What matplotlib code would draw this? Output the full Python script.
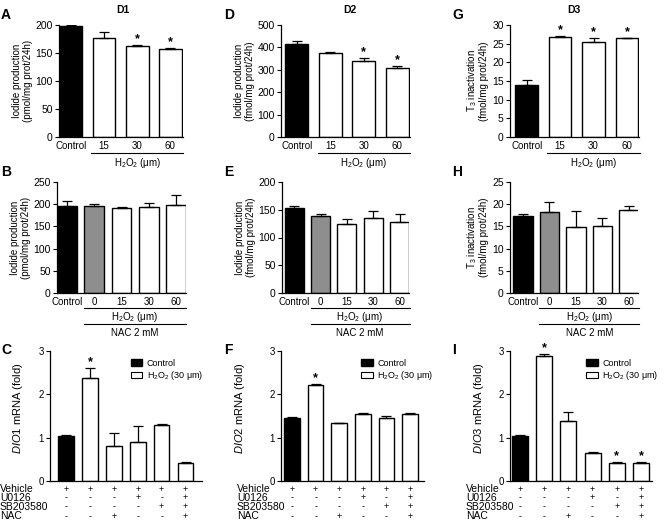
import matplotlib
matplotlib.use("Agg")
import matplotlib.pyplot as plt
import matplotlib.transforms as mtransforms
from matplotlib.patches import Patch

plt.rcParams['font.family'] = ['Liberation Sans', 'DejaVu Sans']
plt.rcParams['mathtext.fontset'] = 'custom'
plt.rcParams['mathtext.rm'] = 'Liberation Sans'
plt.rcParams['mathtext.it'] = 'Liberation Sans:italic'
plt.rcParams['axes.linewidth'] = 0.9

# ---- data ----
h2o2_labels = ["Control", "15", "30", "60"]
nac_labels = ["Control", "0", "15", "30", "60"]

d1_h2o2 = [198, 177, 162, 157]
d1_h2o2_err = [2, 11, 2, 2]
d2_h2o2 = [417, 375, 339, 309]
d2_h2o2_err = [12, 5, 14, 8]
d3_h2o2 = [13.9, 26.9, 25.5, 26.4]
d3_h2o2_err = [1.4, 0.2, 0.9, 0.2]

d1_nac = [196, 195, 191, 194, 199]
d1_nac_err = [11, 5, 2, 8, 22]
d2_nac = [154, 139, 124, 136, 128]
d2_nac_err = [2, 3, 9, 12, 15]
d3_nac = [17.3, 18.2, 14.8, 15.2, 18.6]
d3_nac_err = [0.6, 2.3, 3.7, 1.7, 1.1]

dio1 = [1.04, 2.38, 0.80, 0.91, 1.29, 0.42]
dio1_err = [0.03, 0.23, 0.31, 0.37, 0.02, 0.02]
dio2 = [1.46, 2.22, 1.33, 1.55, 1.45, 1.55]
dio2_err = [0.02, 0.02, 0.02, 0.02, 0.05, 0.02]
dio3 = [1.04, 2.88, 1.39, 0.65, 0.42, 0.42]
dio3_err = [0.02, 0.04, 0.21, 0.02, 0.01, 0.02]

vehicle = ["+", "+", "+", "+", "+", "+"]
u0126 = ["-", "-", "-", "+", "-", "+"]
sb203580 = ["-", "-", "-", "-", "+", "+"]
nac = ["-", "-", "+", "-", "-", "+"]

W, H = 665, 521
fig = plt.figure(figsize=(W / 100, H / 100), dpi=100)


def px_axes(x0, x1, ytop, ybot):
    return fig.add_axes([x0 / W, 1 - ybot / H, (x1 - x0) / W, (ybot - ytop) / H])


def bars(ax, vals, errs, colors, stars, xlim, ymax, yticks, width=0.68):
    x = list(range(len(vals)))
    ax.bar(x, vals, width=width, color=colors, edgecolor="black", linewidth=1.0, zorder=2)
    ax.errorbar(x, vals, yerr=[[0] * len(errs), errs], fmt="none", ecolor="black",
                elinewidth=0.9, capsize=3.5, capthick=0.9, zorder=3)
    for i in stars:
        ax.text(i, vals[i] + errs[i], "*", ha="center", va="bottom", fontsize=9,
                fontweight="bold")
    ax.set_xlim(*xlim)
    ax.set_ylim(0, ymax)
    ax.set_yticks(yticks)
    for s in ["top", "right"]:
        ax.spines[s].set_visible(False)
    ax.tick_params(axis="y", length=3, width=0.8, labelsize=7.5, pad=1.5)
    ax.tick_params(axis="x", length=0, labelsize=7, pad=3)


def hline_label(ax, x0, x1, y, ytxt, txt):
    tr = ax.get_xaxis_transform()
    ax.plot([x0, x1], [y, y], color="black", lw=0.8, transform=tr, clip_on=False)
    ax.text((x0 + x1) / 2, ytxt, txt, transform=tr, ha="center", va="center", fontsize=7)


h2o2_txt = "H$_2$O$_2$ (μm)"

# ---- top row ----
top = [
    (59, 183, d1_h2o2, d1_h2o2_err, [2, 3], (-0.36, 3.38), 200, [0, 50, 100, 150, 200],
     "Iodide production\n(pmol/mg prot/24h)"),
    (281, 410, d2_h2o2, d2_h2o2_err, [2, 3], (-0.47, 3.38), 500, [0, 100, 200, 300, 400, 500],
     "Iodide production\n(fmol/mg prot/24h)"),
    (510, 639, d3_h2o2, d3_h2o2_err, [1, 2, 3], (-0.5, 3.36), 30, [0, 5, 10, 15, 20, 25, 30],
     "T$_3$ inactivation\n(fmol/mg prot/24h)"),
]
for x0, x1, v, e, st, xl, ym, yt, yl in top:
    ax = px_axes(x0, x1, 25, 137)
    bars(ax, v, e, ["black", "white", "white", "white"], st, xl, ym, yt)
    ax.set_xticks(range(4))
    ax.set_xticklabels(h2o2_labels)
    ax.set_ylabel(yl, fontsize=7, labelpad=2, linespacing=1.1)
    hline_label(ax, 0.62, 3.38, -0.143, -0.235, h2o2_txt)

# ---- middle row ----
mid = [
    (57, 186, d1_nac, d1_nac_err, (-0.37, 4.37), 250, [0, 50, 100, 150, 200, 250],
     "Iodide production\n(pmol/mg prot/24h)"),
    (282, 409, d2_nac, d2_nac_err, (-0.47, 4.36), 200, [0, 50, 100, 150, 200],
     "Iodide production\n(fmol/mg prot/24h)"),
    (510, 638, d3_nac, d3_nac_err, (-0.49, 4.34), 25, [0, 5, 10, 15, 20, 25],
     "T$_3$ inactivation\n(fmol/mg prot/24h)"),
]
for x0, x1, v, e, xl, ym, yt, yl in mid:
    ax = px_axes(x0, x1, 182, 293)
    bars(ax, v, e, ["black", "#8e8e8e", "white", "white", "white"], [], xl, ym, yt,
         width=0.72)
    ax.set_xticks(range(5))
    ax.set_xticklabels(nac_labels)
    ax.set_ylabel(yl, fontsize=7, labelpad=2, linespacing=1.1)
    hline_label(ax, 0.62, 4.38, -0.135, -0.215, h2o2_txt)
    hline_label(ax, 0.62, 4.38, -0.28, -0.36, "NAC 2 mM")

# ---- bottom row ----
bot = [
    (50, 202, dio1, dio1_err, [1], (-0.67, 5.69), "$\\it{DIO1}$ mRNA (fold)", 0, -0.165, 0.53),
    (281, 424, dio2, dio2_err, [1], (-0.47, 5.6), "$\\it{DIO2}$ mRNA (fold)", 237, -0.24, 0.56),
    (510, 652, dio3, dio3_err, [1, 4, 5], (-0.4, 5.45), "$\\it{DIO3}$ mRNA (fold)", 466, -0.17, 0.535),
]
rows = [("Vehicle", vehicle, -0.062), ("U0126", u0126, -0.128),
        ("SB203580", sb203580, -0.2), ("NAC", nac, -0.272)]
for x0, x1, v, e, st, xl, yl, lab_x, ylx, legx in bot:
    ax = px_axes(x0, x1, 351, 481)
    bars(ax, v, e, ["black"] + ["white"] * 5, st, xl, 3, [0, 1, 2, 3], width=0.66)
    ax.set_xticks([])
    ax.tick_params(axis="y", labelsize=7)
    ax.set_ylabel(yl, fontsize=8)
    ax.yaxis.set_label_coords(ylx, 0.56)
    # legend
    hs = [Patch(facecolor="black", edgecolor="black"),
          Patch(facecolor="white", edgecolor="black", linewidth=0.8)]
    ax.legend(hs, ["Control", "H$_2$O$_2$ (30 μm)"], loc="upper left",
              bbox_to_anchor=(legx, 0.94), frameon=False, fontsize=6.5,
              handlelength=1.3, handleheight=0.8, labelspacing=0.15,
              handletextpad=0.5, borderaxespad=0, borderpad=0)
    # treatment table
    tr_lab = mtransforms.blended_transform_factory(fig.transFigure, ax.transAxes)
    tr = ax.get_xaxis_transform()
    for name, marks, yy in rows:
        ax.text(lab_x / W, yy, name, transform=tr_lab, ha="left", va="center",
                fontsize=7.5, clip_on=False)
        for i, m in enumerate(marks):
            ax.text(i, yy, m, transform=tr, ha="center", va="center", fontsize=6.5)

# ---- titles and panel letters ----
for x, t in [(123, "D1"), (350, "D2"), (574, "D3")]:
    fig.text(x / W, 1 - 10 / H, t, ha="center", va="center", fontsize=7.5, fontweight="bold")
letters = [(1, 15, "A"), (1, 172, "B"), (1, 350, "C"),
           (224, 15, "D"), (224, 172, "E"), (224, 350, "F"),
           (452, 15, "G"), (452, 172, "H"), (452, 350, "I")]
for x, y, t in letters:
    fig.text(x / W, 1 - y / H, t, ha="left", va="center", fontsize=10, fontweight="bold")

fig.savefig("out.png", dpi=100)
